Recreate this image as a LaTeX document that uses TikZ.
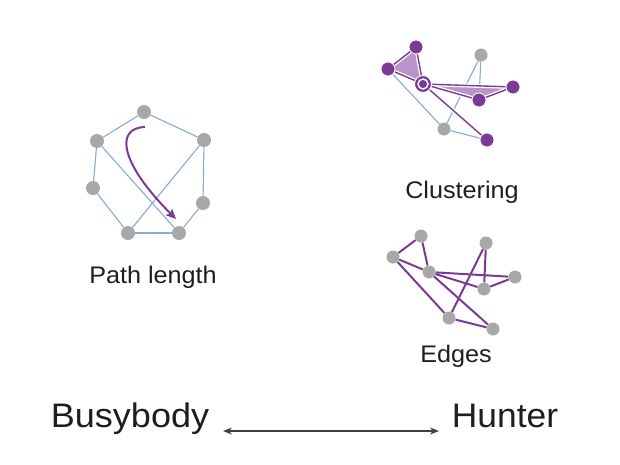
\documentclass[tikz,border=0pt]{standalone}
\usepackage{fontspec}
\setmainfont{Liberation Sans}
\usetikzlibrary{arrows.meta,backgrounds}
\definecolor{pur}{HTML}{7B3A94}
\definecolor{lpur}{HTML}{B894CB}
\definecolor{gnode}{HTML}{A8A8A8}
\definecolor{bl}{HTML}{86ACD4}
\definecolor{txt}{HTML}{1E1E1E}
\begin{document}
\begin{tikzpicture}[x=1pt,y=-1pt,
  gn/.style={circle,fill=gnode,minimum size=14pt,inner sep=0pt},
  gns/.style={circle,fill=gnode,minimum size=13pt,inner sep=0pt},
  pn/.style={circle,fill=pur,draw=white,line width=0.8pt,minimum size=14pt,inner sep=0pt},
  ringn/.style={circle,fill=pur,draw=white,line width=0.9pt,minimum size=17pt,inner sep=0pt},
  bedge/.style={draw=bl,line width=1.1pt},
  pedge/.style={draw=pur,line width=1.4pt,preaction={draw=white,line width=4pt}},
  eedge/.style={draw=pur,line width=2pt},
  lbl/.style={font=\fontsize{24}{28}\selectfont,text=txt,anchor=base},
  big/.style={font=\fontsize{34}{40}\selectfont,text=txt,anchor=base}]
\useasboundingbox (0,0) rectangle (620,464);

% ---------- Path length graph ----------
\node[gn] (pt)  at (144,112) {};
\node[gn] (pul) at (97,141) {};
\node[gn] (pur) at (204,140) {};
\node[gn] (pml) at (93,188) {};
\node[gn] (pmr) at (203,203) {};
\node[gn] (pbl) at (128,233) {};
\node[gn] (pbr) at (179,233) {};
\begin{scope}[on background layer]
  \draw[bedge] (pt) -- (pul);
  \draw[bedge] (pt) -- (pur);
  \draw[bedge] (pul) -- (pml);
  \draw[bedge] (pul) -- (pbr);
  \draw[bedge] (pur) -- (pmr);
  \draw[bedge] (pur) -- (pbl);
  \draw[bedge] (pml) -- (pbl);
  \draw[bedge] (pbl) -- (pbr);
  \draw[bedge] (pmr) -- (pbr);
\end{scope}
\coordinate (as) at (145,127);
\coordinate (ae) at (176,219);
\draw[pur,line width=2pt,-{Stealth[length=10pt,width=9pt,inset=2pt]}]
  (as) .. controls (114,128) and (121,164) .. (ae);
\node[lbl] (lpath) at (153,283) {\scalebox{1.05}[1]{Path length}};

% ---------- Clustering graph ----------
\node[pn] (c1) at (416,47) {};
\node[pn] (c2) at (388,69) {};
\node[ringn] (c3) at (423,84) {};
\draw[white,line width=1.4pt] (c3.center) circle (5pt);
\node[gns] (c4) at (481,55) {};
\node[pn] (c5) at (513,87) {};
\node[pn] (c6) at (479,100) {};
\node[gns] (c7) at (444,129) {};
\node[pn] (c8) at (487,140) {};
\begin{scope}[on background layer]
  \fill[lpur] (c1.center) -- (c2.center) -- (c3.center) -- cycle;
  \fill[lpur] (c3.center) -- (c5.center) -- (c6.center) -- cycle;
  \draw[bedge] (c2) -- (c7);
  \draw[bedge] (c4) -- (c7);
  \draw[bedge] (c4) -- (c6);
  \draw[bedge] (c7) -- (c8);
  \draw[pedge] (c3) -- (c8);
  \draw[pedge] (c1) -- (c2);
  \draw[pedge] (c1) -- (c3);
  \draw[pedge] (c2) -- (c3);
  \draw[pedge] (c3) -- (c5);
  \draw[pedge] (c3) -- (c6);
  \draw[pedge] (c5) -- (c6);
\end{scope}
\node[lbl] (lclus) at (462,198) {\scalebox{1.05}[1]{Clustering}};

% ---------- Edges graph ----------
\node[gns] (ea) at (421,236) {};
\node[gns] (eb) at (393,257) {};
\node[gns] (ec) at (429,272) {};
\node[gns] (ed) at (486,243) {};
\node[gns] (ee) at (515,277) {};
\node[gns] (ef) at (484,289) {};
\node[gns] (eg) at (449,318) {};
\node[gns] (eh) at (493,329) {};
\begin{scope}[on background layer]
  \draw[eedge] (ea) -- (eb);
  \draw[eedge] (ea) -- (ec);
  \draw[eedge] (eb) -- (ec);
  \draw[eedge] (eb) -- (eg);
  \draw[eedge] (ec) -- (ee);
  \draw[eedge] (ec) -- (ef);
  \draw[eedge] (ec) -- (eh);
  \draw[eedge] (ed) -- (eg);
  \draw[eedge] (ed) -- (ef);
  \draw[eedge] (ef) -- (ee);
  \draw[eedge] (eg) -- (eh);
\end{scope}
\node[lbl] (ledges) at (456,362) {\scalebox{1.05}[1]{Edges}};

% ---------- Bottom axis ----------
\node[big] (busy) at (130,427) {\scalebox{1.06}[1]{Busybody}};
\node[big] (hunt) at (505,427) {\scalebox{1.04}[1]{Hunter}};
\coordinate (al) at (223,431);
\coordinate (ar) at (439,431);
\draw[txt!85,line width=1.1pt,{Stealth[length=9pt,width=7pt]}-{Stealth[length=9pt,width=7pt]}] (al) -- (ar);
\end{tikzpicture}
\end{document}
